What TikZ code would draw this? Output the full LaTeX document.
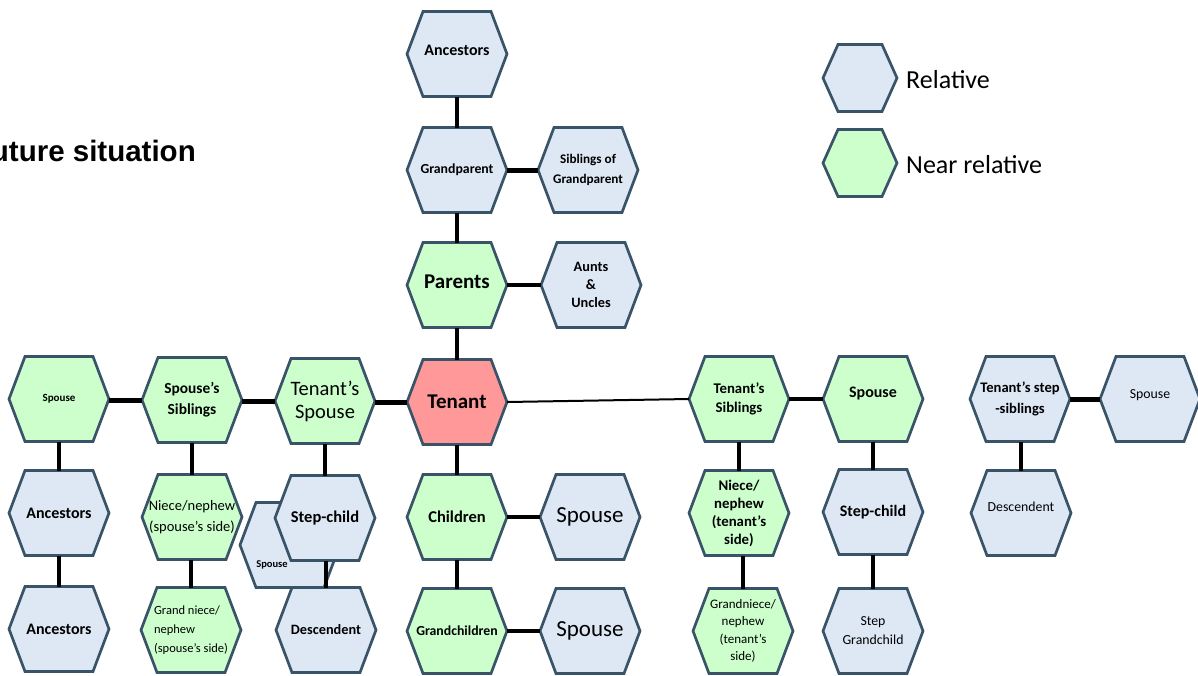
\documentclass[tikz,border=0pt]{standalone}
\usepackage{fontspec}
\setmainfont{Carlito}
\newfontfamily\arialfont{Liberation Sans}
\definecolor{relfill}{RGB}{222,232,245}
\definecolor{nearfill}{RGB}{204,255,204}
\definecolor{tenfill}{RGB}{255,153,153}
\definecolor{hexborder}{RGB}{57,83,104}
\pgfdeclarelayer{bg}
\pgfsetlayers{bg,main}
\newcommand\myfs[2]{\fontsize{#1}{#2}\selectfont}
\def\hexin{16pt}
% #1 fill, #2 name, #3 position, #4 node options, #5 text
\newcommand\hx[5]{%
  \node[hexbox,#4] (#2) at (#3) {#5};
  \begin{pgfonlayer}{bg}
    \draw[hexline,fill=#1] (#2.west) -- ([xshift=\hexin]#2.north west) -- ([xshift=-\hexin]#2.north east)
      -- (#2.east) -- ([xshift=-\hexin]#2.south east) -- ([xshift=\hexin]#2.south west) -- cycle;
  \end{pgfonlayer}}
\tikzset{
  hexbox/.style={rectangle, minimum width=100pt, minimum height=85pt, inner sep=0pt, outer sep=0pt, align=center, text=black},
  hexline/.style={draw=hexborder, line width=2.7pt, line join=miter},
  cfive/.style={line width=5pt},
  cfour/.style={line width=4pt},
  cthree/.style={line width=3.3pt},
  ctwo/.style={line width=2pt},
  bigb/.style={font=\myfs{21}{24}\bfseries},
}
\begin{document}
\begin{tikzpicture}[x=1pt,y=-1pt]
\useasboundingbox (0,0) rectangle (1198,675);
\begin{pgfonlayer}{bg}
\fill[white] (0,0) rectangle (1198,675);
\end{pgfonlayer}

% title
\node[font=\arialfont\bfseries\myfs{29.5}{32}, anchor=base east, inner sep=0pt] (title) at (196,161) {Future situation};

% central column
\hx{relfill}{anc0}{457,54}{font=\myfs{16}{19}\bfseries, text depth=8pt}{Ancestors}
\hx{relfill}{gp}{457,170}{font=\myfs{13.8}{16}\bfseries}{Grandparent}
\hx{relfill}{sgp}{588,170}{font=\myfs{13.2}{20}\bfseries}{Siblings of\\Grandparent}
\hx{nearfill}{par}{457,285}{bigb, text depth=7pt}{Parents}
\hx{relfill}{aunt}{591,285}{font=\myfs{14.3}{18}\bfseries}{Aunts\\\&\\Uncles}
\hx{tenfill}{ten}{457,402}{bigb}{Tenant}
\hx{nearfill}{chi}{457,517}{font=\myfs{16.5}{19}\bfseries}{Children}
\hx{relfill}{chisp}{590,517}{font=\myfs{23}{26}}{Spouse}
\hx{nearfill}{gch}{457,631}{font=\myfs{13.8}{16}\bfseries}{Grandchildren}
\hx{relfill}{gchsp}{590,631}{font=\myfs{23}{26}}{Spouse}

% left side
\hx{nearfill}{lsp}{59,399}{font=\myfs{11}{13}\bfseries}{Spouse}
\hx{nearfill}{ssib}{192,400}{font=\myfs{15.4}{21}\bfseries}{Spouse’s\\Siblings}
\hx{nearfill}{tsp}{325,401}{font=\myfs{20.5}{23}}{Tenant’s\\Spouse}
\hx{relfill}{anc1}{59,513}{font=\myfs{16}{19}\bfseries}{Ancestors}
\hx{relfill}{anc2}{59,629}{font=\myfs{16}{19}\bfseries}{Ancestors}
\hx{nearfill}{sniece}{192,517}{font=\myfs{14.5}{21}}{Niece/nephew\\(spouse’s side)}
\hx{nearfill}{sgniece}{191,630}{font=\myfs{12.5}{19}, align=left}{Grand niece/\\nephew\\(spouse’s side)}
\hx{relfill}{ssp}{290,545}{label={[font=\myfs{10.5}{12}\bfseries, xshift=-18pt, yshift=-20pt]center:Spouse}}{}
\hx{relfill}{stepl}{325,518}{font=\myfs{16.5}{19}\bfseries}{Step-child}
\hx{relfill}{descl}{326,630}{font=\myfs{14.3}{17}\bfseries}{Descendent}

% right side
\hx{nearfill}{tsib}{739,399}{font=\myfs{14.8}{19}\bfseries}{Tenant’s\\Siblings}
\hx{nearfill}{rsp}{873,399}{font=\myfs{16}{19}\bfseries, text depth=14pt}{Spouse}
\hx{nearfill}{tniece}{739,513}{font=\myfs{14.8}{18}\bfseries}{Niece/\\nephew\\(tenant’s\\side)}
\hx{nearfill}{tgniece}{743,631}{font=\myfs{13}{17.5}}{Grandniece/\\nephew\\(tenant’s\\side)}
\hx{relfill}{stepr}{873,512}{font=\myfs{16}{19}\bfseries}{Step-child}
\hx{relfill}{stepgc}{873,631}{font=\myfs{13.8}{19}}{Step\\Grandchild}
\hx{relfill}{tss}{1020,399}{font=\myfs{14.6}{21}\bfseries}{Tenant’s step\\-siblings}
\hx{relfill}{frsp}{1150,399}{font=\myfs{13.8}{16}, text depth=10pt}{Spouse}
\hx{relfill}{descr}{1021,513}{font=\myfs{13.8}{16}, text depth=12pt}{Descendent}

% legend
\def\hexin{15pt}
\hx{relfill}{legrel}{860,78}{minimum width=74pt, minimum height=67pt}{}
\hx{nearfill}{legnear}{860,163}{minimum width=74pt, minimum height=67pt}{}
\node[font=\myfs{26}{28}, anchor=west, inner sep=0pt] (legreltxt) at (906,80) {Relative};
\node[font=\myfs{26}{28}, anchor=west, inner sep=0pt] (legneartxt) at (906,165) {Near relative};

% connectors
\draw[cfour] (anc0) -- (gp);
\draw[cfive] (gp) -- (sgp);
\draw[cfour] (gp) -- (par);
\draw[cthree] (par) -- (aunt);
\draw[cthree] (par) -- (ten);
\draw[cfive] (ten.west) -- (ten.west -| tsp.east);
\draw[cfive] (tsp.west) -- (tsp.west -| ssib.east);
\draw[cfive] (ssib.west) -- (ssib.west -| lsp.east);
\draw[ctwo] (ten.east) -- (tsib.west);
\draw[cfour] (tsib) -- (rsp);
\draw[cfive] (tss) -- (frsp);
\draw[cfour] (lsp) -- (anc1);
\draw[cfour] (anc1) -- (anc2);
\draw[cfour] (ssib) -- (sniece);
\draw[cfour] (sniece.south -| sgniece.north) -- (sgniece.north);
\draw[cfour] (tsp) -- (stepl);
\draw[cfour] (stepl.south -| descl.north) -- (descl.north);
\draw[cfour] (ten) -- (chi);
\draw[cfour] (chi) -- (gch);
\draw[cthree] (chi) -- (chisp);
\draw[cthree] (gch) -- (gchsp);
\draw[cfour] (tsib) -- (tniece);
\draw[cfour] (tniece.south -| tgniece.north) -- (tgniece.north);
\draw[cfour] (rsp) -- (stepr);
\draw[cfour] (stepr) -- (stepgc);
\draw[cfour] (tss.south -| descr.north) -- (descr.north);
\end{tikzpicture}
\end{document}
